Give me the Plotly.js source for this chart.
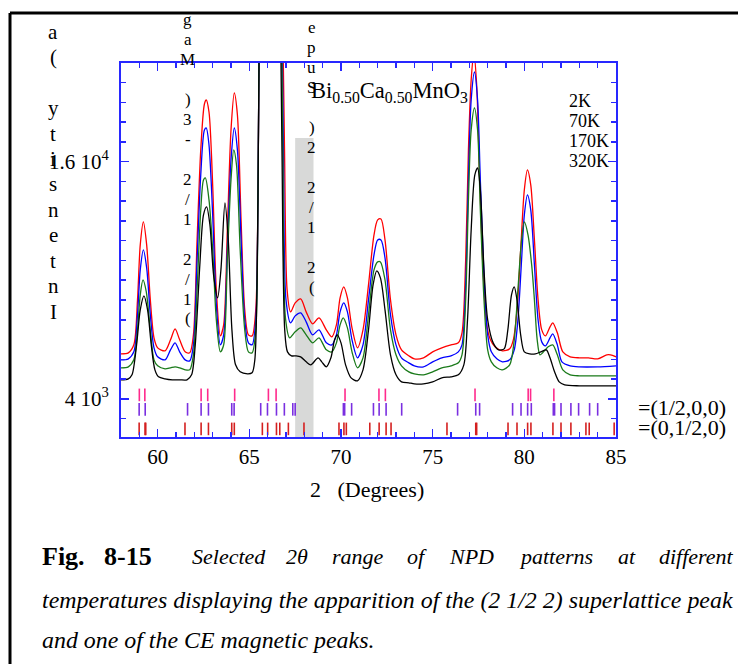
<!DOCTYPE html>
<html><head><meta charset="utf-8">
<script src="https://cdn.plot.ly/plotly-3.0.1.min.js"></script>
<style>html,body{margin:0;padding:0;background:#fff;} #chart{width:738px;height:664px;}</style>
</head><body><div id="chart"></div>
<script>
// ---------- data (2theta in degrees, intensity in counts) ----------
const twoTheta2K = [58.0,58.4,58.7,58.9,59.05,59.22,59.4,59.6,59.8,60.0,60.4,60.7,60.95,61.2,61.5,61.75,61.95,62.15,62.35,62.55,62.65,62.8,63.0,63.2,63.42,63.6,63.8,64.0,64.18,64.35,64.55,64.75,64.95,65.15,65.35,65.47,65.58,65.8,66.2,66.5,66.75,66.92,67.06,67.25,67.5,67.8,68.1,68.45,68.8,69.2,69.5,69.75,69.95,70.15,70.35,70.6,70.9,71.2,71.5,71.8,72.0,72.18,72.4,72.7,73.0,73.3,73.7,74.0,74.5,75.0,75.5,76.0,76.4,76.6,76.8,76.95,77.1,77.25,77.4,77.55,77.75,77.95,78.15,78.4,78.8,79.2,79.4,79.6,79.8,80.0,80.17,80.35,80.55,80.75,80.95,81.15,81.4,81.55,81.8,82.1,82.5,83.0,83.5,84.0,84.5,84.7,85.0];
const counts2K = [6277,6328,6732,9007,11788,12951,11788,9007,7086,6580,6429,6985,7541,6985,6378,6328,7237,12041,16591,18917,19119,18512,14821,9513,7187,7743,12546,17602,19473,18361,13052,8501,7237,7187,8501,14063,28000,45000,50000,45000,28000,16591,9513,8400,8855,9057,8400,7794,8097,7490,7136,7743,9108,9664,9108,7591,6580,7490,9765,12293,13052,13102,12041,9007,7237,6479,6176,6024,6075,6378,6580,6732,6833,7339,11029,16591,20130,21500,19877,15580,10524,7743,6985,6631,6429,6530,6985,8501,11535,14569,15580,14821,12041,9007,7490,7187,7642,7844,7339,6378,6126,6075,6075,6024,6227,6227,6126];

const twoTheta70K = [58.0,58.4,58.7,58.9,59.05,59.22,59.4,59.6,59.8,60.0,60.4,60.7,60.95,61.2,61.5,61.75,61.95,62.15,62.35,62.55,62.65,62.8,63.0,63.2,63.42,63.6,63.8,64.0,64.18,64.35,64.55,64.75,64.95,65.15,65.35,65.47,65.58,65.8,66.2,66.5,66.72,66.86,67.0,67.25,67.5,67.8,68.1,68.45,68.8,69.2,69.5,69.75,69.95,70.15,70.35,70.6,70.9,71.2,71.5,71.8,72.0,72.18,72.4,72.7,73.0,73.3,73.7,74.0,74.5,75.0,75.5,76.0,76.4,76.6,76.8,76.95,77.1,77.28,77.45,77.6,77.8,78.0,78.2,78.5,78.8,79.2,79.45,79.65,79.85,80.0,80.17,80.35,80.55,80.75,80.95,81.15,81.4,81.55,81.8,82.05,82.5,83.0,84.0,85.0];
const counts70K = [5973,6024,6378,8249,10524,11535,10625,8249,6580,6126,5973,6479,6833,6378,5973,5923,6732,11029,15327,17602,17703,16844,13305,8754,6732,7237,11535,16085,17703,16591,12041,7996,6833,6732,7996,14063,28000,45000,50000,45000,28000,16591,9007,7844,8198,8350,7895,7237,7490,6833,6732,7237,8400,8855,8400,6985,6075,6732,9007,11282,12041,12041,11131,8249,6732,6075,5822,5670,5620,5872,6075,6176,6378,6732,9765,15074,19119,20535,19119,15074,10271,7237,6378,6024,5872,5973,6479,7996,11029,13305,14316,13557,10777,7996,6883,6681,7086,7288,6732,5872,5670,5620,5620,5670];

const twoTheta170K = [58.0,58.4,58.7,58.9,59.05,59.2,59.38,59.6,59.8,60.0,60.4,60.7,60.95,61.2,61.5,61.75,61.95,62.15,62.35,62.5,62.6,62.8,63.0,63.2,63.42,63.6,63.8,64.0,64.15,64.3,64.5,64.75,64.95,65.15,65.35,65.47,65.58,65.8,66.2,66.5,66.7,66.83,66.97,67.2,67.5,67.8,68.1,68.45,68.8,69.2,69.5,69.75,69.95,70.12,70.35,70.6,70.9,71.2,71.5,71.8,72.0,72.15,72.4,72.7,73.0,73.3,73.7,74.0,74.5,75.0,75.5,76.0,76.4,76.6,76.8,76.95,77.1,77.28,77.45,77.6,77.8,78.0,78.2,78.5,78.8,79.2,79.45,79.65,79.85,80.0,80.2,80.4,80.55,80.7,80.85,81.0,81.3,81.55,81.8,82.1,82.5,83.0,84.0,85.0];
const counts170K = [5569,5620,5973,7490,9260,10018,9412,7490,5973,5670,5519,5569,5620,5569,5468,5468,6227,9513,13557,15074,15175,14063,11535,7996,6378,6732,11029,15074,16591,15833,11535,7490,6378,6328,7490,14063,28000,45000,50000,45000,28000,16591,8097,7086,7389,7591,7237,6833,7086,6479,6378,6833,7743,8097,7591,6378,5569,6075,8249,10524,10928,10928,10018,7490,6227,5670,5367,5266,5215,5367,5569,5670,5822,6227,9007,14063,17602,18714,17602,13557,9007,6479,5872,5569,5468,5721,6985,9513,12041,12951,12294,10777,9007,7000,6227,6328,6631,6732,6227,5468,5215,5164,5164,5164];

const twoTheta320K = [58.0,58.4,58.6,58.85,59.05,59.25,59.45,59.65,59.85,60.05,60.4,60.8,61.2,61.6,61.85,62.05,62.3,62.5,62.67,62.85,63.05,63.27,63.45,63.67,63.85,64.05,64.25,64.5,64.9,65.15,65.3,65.47,65.58,65.8,66.2,66.5,66.65,66.78,66.93,67.08,67.3,67.55,67.8,68.1,68.35,68.75,68.95,69.2,69.45,69.65,69.8,70.0,70.25,70.55,70.9,71.2,71.5,71.75,71.95,72.15,72.4,72.7,73.0,73.3,73.7,74.0,74.5,75.0,75.5,76.0,76.4,76.7,76.9,77.1,77.3,77.45,77.6,77.8,78.0,78.3,78.6,78.9,79.1,79.3,79.45,79.6,79.8,80.0,80.3,80.6,80.9,81.2,81.4,81.65,81.9,82.2,83.0,84.0,85.0];
const counts320K = [4962,5013,5215,6732,8501,9209,8501,6732,5468,5114,5013,4962,4962,4962,5215,6732,10777,13305,13709,12799,10271,9108,10524,13911,12041,7490,5721,5367,5266,5316,5973,14063,28000,45000,50000,45000,28000,16591,7490,6378,6176,6176,6126,5872,5721,6075,5872,5620,6075,6985,7237,6833,5721,5063,4912,5468,7490,9765,10473,10119,8501,6227,5215,4861,4811,4760,4760,4861,5063,5114,5215,5721,7996,12546,15327,15681,14569,10524,7996,6833,6479,6530,7490,9260,9664,9007,7237,6378,6277,6277,6378,6479,6075,5367,4861,4709,4659,4659,4659];

const seriesNames = ['2K','70K','170K','320K'];

// reflection markers (2theta positions)
const nuclearPeaks = [59.0,59.3,62.37,62.73,64.2,66.04,66.46,70.22,72.07,72.42,77.31,80.21,80.34,81.61];
const magPeaksHalf00 = [58.99,59.32,61.63,62.37,62.77,64.04,64.17,65.62,65.99,66.48,66.91,67.37,67.5,70.13,70.2,70.58,71.77,72.08,72.46,73.31,76.36,77.35,77.56,79.36,79.82,80.18,80.38,81.58,81.65,82.0,82.54,82.96,83.56,84.0];
const magPeaks0Half0 = [58.99,59.31,59.35,61.49,62.37,62.77,64.04,64.18,65.71,66.0,66.48,66.66,67.13,67.98,69.89,70.16,70.29,71.57,72.08,72.46,72.73,75.78,77.35,77.4,79.11,79.6,80.18,80.36,81.56,82.0,82.54,83.36,83.54,84.9];
const markerLevels = [4200, 3470, 2480];
const markerLabels = ['=(1/2,0,0)', '=(0,1/2,0)'];

// highlighted superlattice region
const bandTwoTheta = [67.5, 68.5];
const bandTop = 17200;

// axis ticks
const yTickVals = [4000, 16000];
const yTickText = ['4 10<sup>3</sup>', '1.6 10<sup>4</sup>'];

// ---------- styling ----------
const FONT = '"Liberation Serif", "Times New Roman", Times, serif';
const AX = '#2828ff';
const lineColors = ['#ff0000', '#0000ff', '#1a7a1a', '#000000'];
const markColors = ['#ff2a8c', '#7a2fe0', '#d42020'];

const W = 738, H = 664, L = 121, R = 616, T = 63, B = 437;
const px = x => (x - L) / (R - L);
const py = y => (B - y) / (B - T);

const xs = [twoTheta2K, twoTheta70K, twoTheta170K, twoTheta320K];
const ys = [counts2K, counts70K, counts170K, counts320K];

const traces = [];
const markerSets = [nuclearPeaks, magPeaksHalf00, magPeaks0Half0];
markerSets.forEach((set, i) => {
  traces.push({
    x: set, y: set.map(() => markerLevels[i]), mode: 'markers', type: 'scatter',
    marker: {symbol: 'line-ns', size: 9, line: {width: 1.6, color: markColors[i]}, color: markColors[i]},
    showlegend: false, hoverinfo: 'skip', cliponaxis: true
  });
});
xs.forEach((x, i) => {
  traces.push({
    x: x, y: ys[i], mode: 'lines', type: 'scatter', name: seriesNames[i],
    line: {color: lineColors[i], width: 1.3, shape: 'spline', smoothing: 0.8},
    showlegend: false, hoverinfo: 'skip'
  });
});

const ann = [];
function txt(text, x, y, size, opts) {
  ann.push(Object.assign({
    text: text, xref: 'paper', yref: 'paper', x: px(x), y: py(y),
    xanchor: 'left', yanchor: 'middle', showarrow: false,
    font: {family: FONT, size: size, color: '#000'}
  }, opts || {}));
}
function column(chars, xc, y0, step, size) {
  chars.forEach((c, i) => { if (c) txt(c, xc, y0 + i * step, size, {xanchor: 'center'}); });
}

// compound title
txt('Bi<sub>0.50</sub>Ca<sub>0.50</sub>MnO<sub>3</sub>', 309, 92, 22.5);
// legend texts
seriesNames.forEach((n, i) => txt(n, 567, [101, 121.5, 141, 160.5][i], 18));
// vertical stacked labels
column(['a','(','','y','t','i','s','n','e','t','n','I'], 53, 31.7, 25.45, 21);
column(['g','a','M','',')','3','-','','2','/','1','','2','/','1','('], 187.5, 20, 19.93, 17);
column(['e','p','u','S','',')','2','','2','/','1','','2','('], 311.5, 27, 20, 17);
// marker row labels
txt(markerLabels[0], 636, 407.5, 22);
txt(markerLabels[1], 636, 427.5, 22);
// x axis title
txt('2\u00a0\u00a0\u00a0(Degrees)', 308, 489.5, 22);
// caption
txt('<b>Fig.</b>', 40, 556, 26);
txt('<b>8-15</b>', 102, 556, 26);
const capWords = ['Selected', '2θ', 'range', 'of', 'NPD', 'patterns', 'at', 'different'];
const capX = [190, 284, 330, 405, 447, 517, 616, 657];
capWords.forEach((w, i) => txt('<i>' + w + '</i>', capX[i], 556, 22));
txt('<i>temperatures displaying the apparition of the (2 1/2 2) superlattice peak</i>', 40, 600, 23.9);
txt('<i>and one of the CE magnetic peaks.</i>', 40, 640, 23.9);

const layout = {
  width: W, height: H,
  margin: {l: L, r: W - R, t: T, b: H - B, pad: 0},
  paper_bgcolor: '#fff', plot_bgcolor: '#fff',
  font: {family: FONT, color: '#000'},
  hovermode: false,
  xaxis: {
    range: [58, 85], tickmode: 'linear', tick0: 0, dtick: 5,
    ticks: 'inside', ticklen: 8, tickwidth: 1.5, tickcolor: AX,
    showline: true, linecolor: AX, linewidth: 2, mirror: 'ticks',
    showgrid: false, zeroline: false,
    tickfont: {family: FONT, size: 21, color: '#000'},
    minor: {tickmode: 'linear', tick0: 0, dtick: 1, ticks: 'inside', ticklen: 5, tickwidth: 1.5, tickcolor: AX, showgrid: false}
  },
  yaxis: {
    range: [2070, 20990], tickmode: 'array', tickvals: yTickVals, ticktext: yTickText,
    ticks: 'inside', ticklen: 8, tickwidth: 1.5, tickcolor: AX,
    showline: true, linecolor: AX, linewidth: 2, mirror: 'ticks',
    showgrid: false, zeroline: false, ticklabelstandoff: 6,
    tickfont: {family: FONT, size: 21, color: '#000'},
    minor: {tickmode: 'linear', tick0: 0, dtick: 1000, ticks: 'inside', ticklen: 5, tickwidth: 1.5, tickcolor: AX, showgrid: false}
  },
  shapes: [
    {type: 'rect', xref: 'x', yref: 'y', x0: bandTwoTheta[0], x1: bandTwoTheta[1], y0: 0, y1: bandTop,
     fillcolor: '#d8d9d8', line: {width: 0}, layer: 'below'},
    {type: 'line', xref: 'paper', yref: 'paper', x0: px(10), x1: px(745), y0: py(13), y1: py(13), line: {color: '#000', width: 3}},
    {type: 'line', xref: 'paper', yref: 'paper', x0: px(10), x1: px(10), y0: py(13), y1: py(670), line: {color: '#000', width: 3}}
  ],
  annotations: ann
};

Plotly.newPlot('chart', traces, layout, {displayModeBar: false, staticPlot: true});
</script>
</body></html>
